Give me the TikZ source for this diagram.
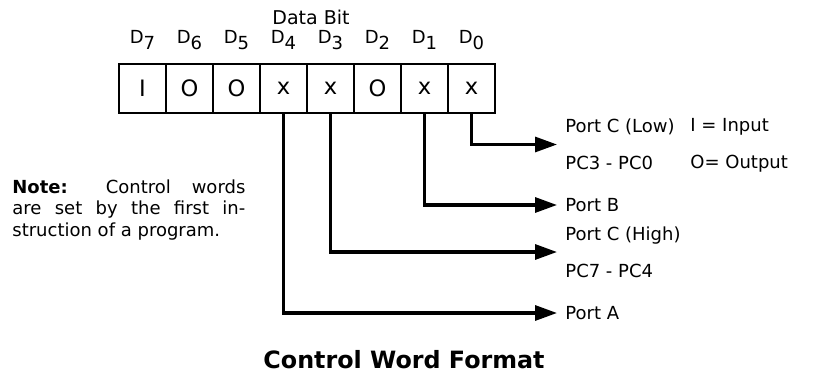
\documentclass[tikz,border=0pt]{standalone}
\usepackage{fontspec}
\setmainfont{DejaVu Sans}
\usetikzlibrary{arrows.meta,positioning,calc}
\newcommand{\dbit}[1]{D\raisebox{-0.6ex}{#1}}

\begin{document}
\begin{tikzpicture}[x=0.5pt, y=-0.5pt,
    cell/.style={draw, line width=1.3pt, minimum width=23.5pt, minimum height=24.5pt, inner sep=0pt, outer sep=0pt, font=\fontsize{11.3}{13}\selectfont},
    bitlbl/.style={inner sep=0pt, font=\fontsize{9}{11}\selectfont},
    port/.style={-{Triangle[length=11pt, width=7.5pt]}, line width=1.6pt},
    lbl/.style={anchor=west, align=left, inner sep=0pt, font=\fontsize{9}{18.5}\selectfont},
    node distance=0pt
  ]
  \useasboundingbox (0,0) rectangle (828,374);

  % Control word register
  \node[cell] (c7) at (142.5,88.5) {I};
  \node[cell, right=of c7] (c6) {O};
  \node[cell, right=of c6] (c5) {O};
  \node[cell, right=of c5] (c4) {x};
  \node[cell, right=of c4] (c3) {x};
  \node[cell, right=of c3] (c2) {O};
  \node[cell, right=of c2] (c1) {x};
  \node[cell, right=of c1] (c0) {x};

  % Bit labels
  \node[bitlbl, above=7pt of c7] (d7) {\dbit{7}};
  \node[bitlbl, above=7pt of c6] (d6) {\dbit{6}};
  \node[bitlbl, above=7pt of c5] (d5) {\dbit{5}};
  \node[bitlbl, above=7pt of c4] (d4) {\dbit{4}};
  \node[bitlbl, above=7pt of c3] (d3) {\dbit{3}};
  \node[bitlbl, above=7pt of c2] (d2) {\dbit{2}};
  \node[bitlbl, above=7pt of c1] (d1) {\dbit{1}};
  \node[bitlbl, above=7pt of c0] (d0) {\dbit{0}};
  \node[bitlbl, font=\fontsize{9.5}{11}\selectfont] (databit) at (311,17) {Data Bit};

  % Port groups
  \node[lbl] (pcl) at (565,144.5) {Port C (Low)\\PC3 - PC0};
  \node[lbl] (pb) at (565,205) {Port B};
  \node[lbl] (pch) at (565,252) {Port C (High)\\PC7 - PC4};
  \node[lbl] (pa) at (565,313) {Port A};
  \node[lbl] (mode) at (690,145.5) {I = Input\\O= Output};

  \draw[port] (c0.south) |- ([xshift=-4pt]pcl.west);
  \draw[port] (c1.south) |- ([xshift=-4pt]pb.west);
  \draw[port] (c3.south) |- ([xshift=-4pt]pch.west);
  \draw[port] (c4.south) |- ([xshift=-4pt]pa.west);

  % Note and title
  \node[anchor=west, text width=116.5pt, align=justify, inner sep=0pt, font=\fontsize{9}{10.75}\selectfont] (note) at (12,210)
    {\textbf{Note:} Control words\linebreak are set by the first in-\linebreak struction of a program.};
  \node[font=\fontsize{11.9}{14}\selectfont\bfseries] (title) at (404,360) {Control Word Format};
\end{tikzpicture}
\end{document}
